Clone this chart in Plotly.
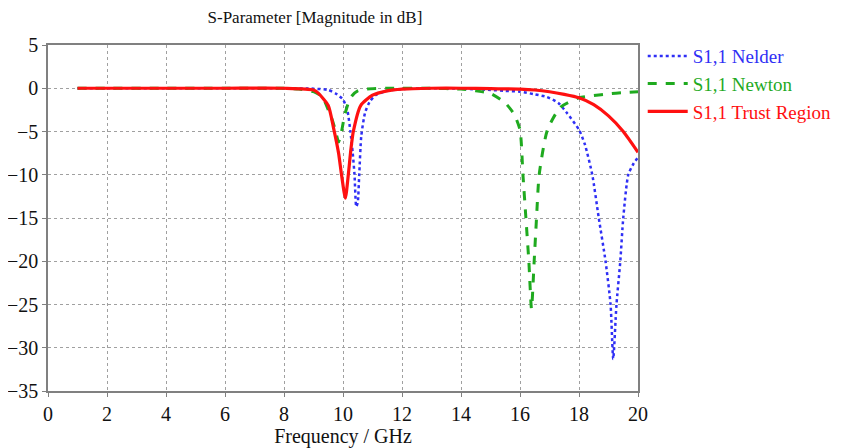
import plotly.graph_objects as go

# Frequency (GHz) / magnitude (dB)
nelder_f = [1, 2, 4, 6, 8, 9, 9.5, 9.75, 10.0, 10.15, 10.25, 10.33, 10.39, 10.45, 10.5, 10.55, 10.62, 10.75, 10.9, 11.1, 11.5, 12, 13, 14, 15, 15.5, 16, 16.5, 16.9, 17.3, 17.6, 18.0, 18.2, 18.45, 18.67, 18.9, 19.07, 19.16, 19.27, 19.4, 19.5, 19.67, 19.85, 20]
nelder_db = [0, 0, 0, 0, 0, -0.05, -0.2, -0.6, -1.3, -2.6, -5, -7.5, -10, -13.7, -13.2, -10, -5.5, -2.8, -1.6, -0.8, -0.3, -0.1, 0, -0.05, -0.2, -0.3, -0.4, -0.7, -1.0, -1.7, -2.9, -4.8, -6.5, -10, -15, -20, -25, -31.3, -25, -20, -15, -10, -8.7, -8.0]

newton_f = [1, 2, 4, 6, 8, 8.5, 9, 9.3, 9.5, 9.65, 9.75, 9.85, 9.95, 10.05, 10.18, 10.3, 10.5, 10.8, 11.5, 12, 13, 14, 14.5, 15, 15.5, 15.8, 16.0, 16.1, 16.2, 16.3, 16.39, 16.48, 16.56, 16.65, 16.93, 17.37, 18, 18.5, 19, 19.5, 20]
newton_db = [0, 0, 0, 0, 0, -0.1, -0.4, -1.0, -2.5, -3.8, -5.0, -6.2, -5.0, -3.2, -1.7, -0.9, -0.3, -0.1, 0, 0, 0, -0.1, -0.3, -0.6, -1.7, -3.0, -4.8, -10, -15, -20, -25.5, -20, -15, -10, -4.8, -2.2, -1.1, -0.85, -0.65, -0.5, -0.4]

trust_f = [1, 2, 4, 6, 8, 9, 9.17, 9.5, 9.68, 9.85, 9.95, 10.08, 10.18, 10.27, 10.35, 10.6, 11, 11.5, 12, 13, 14, 15, 16, 16.5, 17, 17.5, 18, 18.5, 19, 19.5, 20]
trust_db = [0, 0, 0, 0, 0, -0.2, -0.6, -2.0, -4.6, -7.5, -10, -12.7, -10, -7, -5, -2, -0.8, -0.3, -0.1, 0, 0, -0.05, -0.1, -0.2, -0.4, -0.7, -1.1, -1.9, -3.2, -5.0, -7.4]

x_ticks = [0, 2, 4, 6, 8, 10, 12, 14, 16, 18, 20]
y_ticks = [5, 0, -5, -10, -15, -20, -25, -30, -35]

BLUE = "#2f2ff5"
GREEN = "#1faa1f"
RED = "#ff1010"
FONT = "Liberation Serif"

fig = go.Figure()
fig.add_trace(go.Scatter(x=nelder_f, y=nelder_db, mode="lines",
                         name=f"<span style='color:{BLUE}'>S1,1 Nelder</span>",
                         line=dict(color=BLUE, width=2.5, dash="dot", shape="spline", smoothing=0.6)))
fig.add_trace(go.Scatter(x=newton_f, y=newton_db, mode="lines",
                         name=f"<span style='color:{GREEN}'>S1,1 Newton</span>",
                         line=dict(color=GREEN, width=3, dash="dash", shape="spline", smoothing=0.6)))
fig.add_trace(go.Scatter(x=trust_f, y=trust_db, mode="lines",
                         name=f"<span style='color:{RED}'>S1,1 Trust Region</span>",
                         line=dict(color=RED, width=3.2, shape="spline", smoothing=0.6)))

axis_common = dict(showgrid=True, gridcolor="#a0a0a0", griddash="dot", gridwidth=1,
                   showline=True, linecolor="#808080", linewidth=1.5, mirror=True,
                   ticks="outside", ticklen=4, tickcolor="#808080", zeroline=False,
                   automargin=False,
                   tickfont=dict(family=FONT, size=20, color="#111111"))

fig.update_layout(
    width=841, height=440,
    paper_bgcolor="white", plot_bgcolor="white",
    margin=dict(l=40, r=208, t=37, b=57),
    title=dict(text="S-Parameter [Magnitude in dB]", x=0.365, xanchor="center", xref="container",
               y=0.9795, yanchor="middle", yref="container",
               font=dict(family=FONT, size=17, color="#111111")),
    xaxis=dict(range=[0, 20], tickvals=x_ticks, title=dict(text="Frequency / GHz", standoff=4,
               font=dict(family=FONT, size=20, color="#111111")), **axis_common),
    yaxis=dict(range=[-35, 5], tickvals=y_ticks, **axis_common),
    legend=dict(x=1.008, y=1.023, xanchor="left", yanchor="top", bgcolor="rgba(0,0,0,0)",
                font=dict(family=FONT, size=19), tracegroupgap=0, itemwidth=40),
    showlegend=True,
)

fig.write_html("out.html")
